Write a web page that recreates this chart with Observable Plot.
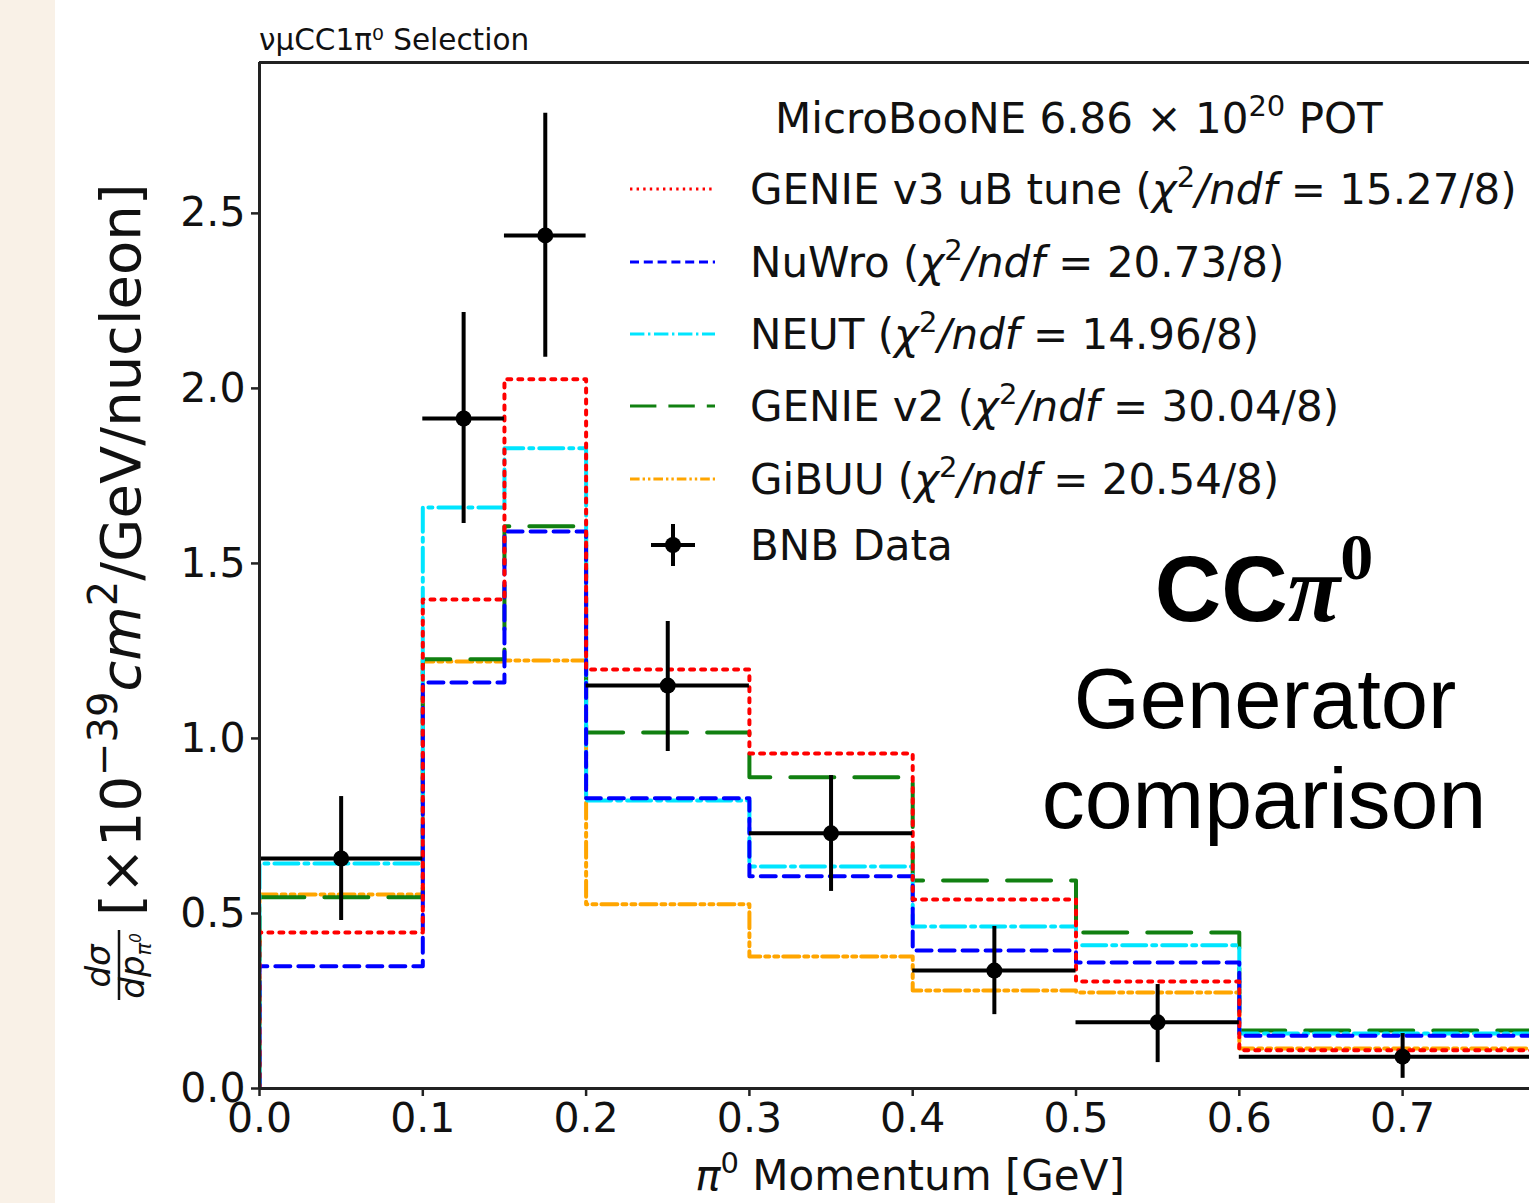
<!DOCTYPE html>
<html><head><meta charset="utf-8">
<script src="https://cdn.jsdelivr.net/npm/d3@7"></script>
<script src="https://cdn.jsdelivr.net/npm/@observablehq/plot@0.6"></script>
<style>
html,body{margin:0;padding:0;background:#f9f1e7;overflow:hidden;width:1529px;height:1203px;}
#white{position:absolute;left:55px;top:0;width:1474px;height:1203px;background:#fff;}
#chart{position:absolute;left:0;top:0;}
</style></head><body><div id="white"></div><div id="chart"></div>
<script>
// ---- data ----
const binEdges = [0, 0.1, 0.15, 0.2, 0.3, 0.4, 0.5, 0.6, 0.8];
const binCenters = [0.05, 0.125, 0.175, 0.25, 0.35, 0.45, 0.55, 0.7];
const bnbData = [0.657, 1.914, 2.437, 1.151, 0.729, 0.337, 0.189, 0.091];
const bnbErrLow = [0.177, 0.300, 0.348, 0.188, 0.166, 0.126, 0.115, 0.062];
const bnbErrHigh = [0.177, 0.303, 0.349, 0.183, 0.165, 0.126, 0.108, 0.066];
const genieV3 = [0.446, 1.397, 2.026, 1.197, 0.957, 0.540, 0.306, 0.109];
const nuwro = [0.349, 1.160, 1.591, 0.829, 0.606, 0.394, 0.360, 0.151];
const neut = [0.643, 1.660, 1.829, 0.823, 0.634, 0.463, 0.409, 0.157];
const genieV2 = [0.546, 1.226, 1.606, 1.017, 0.889, 0.594, 0.446, 0.166];
const gibuu = [0.554, 1.220, 1.223, 0.526, 0.377, 0.280, 0.274, 0.114];
const xTicks = [0, 0.1, 0.2, 0.3, 0.4, 0.5, 0.6, 0.7];
const yTicks = [0, 0.5, 1.0, 1.5, 2.0, 2.5];
const seriesNames = ["GENIE v3 uB tune", "NuWro", "NEUT", "GENIE v2", "GiBUU"];
const chi2 = ["15.27/8", "20.73/8", "14.96/8", "30.04/8", "20.54/8"];
const seriesColors = ["#ff0000", "#0000ff", "#00e5ff", "#118011", "#ffa500"];
const seriesDash = ["4,7", "15,8", "24,6,4,6", "44,20", "16,5,4,5,4,5"];
const seriesValues = [genieV3, nuwro, neut, genieV2, gibuu];

const xDomain = [0, 0.7777];
const yDomain = [0, 2.931];

function stepPoints(vals) {
  const pts = [[binEdges[0], 0]];
  vals.forEach((v, i) => { pts.push([binEdges[i], v]); pts.push([binEdges[i + 1], v]); });
  pts.push([binEdges[binEdges.length - 1], 0]);
  return pts.map(([x, y]) => ({x, y}));
}
const dataTable = bnbData.map((v, i) => ({
  lo: binEdges[i], hi: binEdges[i + 1], c: binCenters[i], v,
  y1: v - bnbErrLow[i], y2: v + bnbErrHigh[i]
}));

const font = "DejaVu Sans, sans-serif";
const lineMarks = [];
for (let k = seriesValues.length - 1; k >= 0; k--) {
  lineMarks.push(Plot.line(stepPoints(seriesValues[k]), {
    x: "x", y: "y", stroke: seriesColors[k], strokeWidth: 4,
    strokeDasharray: seriesDash[k], clip: true
  }));
}

const svg = Plot.plot({
  width: 1529, height: 1203,
  marginLeft: 259, marginRight: 0, marginTop: 62, marginBottom: 115,
  style: {background: "transparent", fontFamily: font},
  x: {domain: xDomain},
  y: {domain: yDomain},
  marks: [
    ...lineMarks,
    Plot.ruleY(dataTable, {x1: "lo", x2: "hi", y: "v", stroke: "black", strokeWidth: 4, clip: true}),
    Plot.ruleX(dataTable, {x: "c", y1: "y1", y2: "y2", stroke: "black", strokeWidth: 4}),
    Plot.dot(dataTable, {x: "c", y: "v", r: 8, fill: "black", stroke: "none"}),
    Plot.axisX({ticks: xTicks, tickFormat: d => d.toFixed(1), tickSize: 8, tickPadding: 6,
      fontSize: 41, stroke: "#222", strokeWidth: 2.5, label: null, fill: "#111"}),
    Plot.axisY({ticks: yTicks, tickFormat: d => d.toFixed(1), tickSize: 8, tickPadding: 6,
      fontSize: 41, stroke: "#222", strokeWidth: 2.5, label: null, fill: "#111"}),
    Plot.ruleX([xDomain[0]], {stroke: "#222", strokeWidth: 3}),
    Plot.ruleY([yDomain[0]], {stroke: "#222", strokeWidth: 3}),
    Plot.ruleY([yDomain[1]], {stroke: "#222", strokeWidth: 3})
  ]
});
document.getElementById("chart").appendChild(svg);

const S = d3.select(svg);
const ns = S.append("g").attr("font-family", font).attr("fill", "#111").attr("text-anchor", "start");

// title
ns.append("text").attr("x", 259).attr("y", 50).attr("font-size", 29.5)
  .text("νμCC1π⁰ Selection");

// x label
const xl = ns.append("text").attr("x", 910).attr("y", 1190).attr("text-anchor", "middle").attr("font-size", 42);
xl.append("tspan").attr("font-style", "italic").text("π");
xl.append("tspan").attr("font-size", 29).attr("dy", -17).text("0");
xl.append("tspan").attr("dy", 17).text(" Momentum [GeV]");

// y label (rotated)
const yg = ns.append("g").attr("transform", "rotate(-90)");
const yl = yg.append("text").attr("x", -916).attr("y", 140).attr("font-size", 56);
yl.append("tspan").text("[×10");
yl.append("tspan").attr("font-size", 40).attr("dy", -23).text("−39");
yl.append("tspan").attr("dy", 23).attr("font-style", "italic").text("cm");
yl.append("tspan").attr("font-size", 40).attr("dy", -23).text("2");
yl.append("tspan").attr("dy", 23).text("/GeV/nucleon]");
// fraction d sigma / d p_pi0
yg.append("text").attr("x", -966).attr("y", 110).attr("text-anchor", "middle")
  .attr("font-size", 34).attr("font-style", "italic").text("dσ");
yg.append("line").attr("x1", -1000).attr("x2", -930).attr("y1", 119).attr("y2", 119)
  .attr("stroke", "#111").attr("stroke-width", 2.5);
const den = yg.append("text").attr("x", -966).attr("y", 144).attr("text-anchor", "middle")
  .attr("font-size", 34).attr("font-style", "italic");
den.append("tspan").text("dp");
den.append("tspan").attr("font-size", 21).attr("dy", 7).text("π");
den.append("tspan").attr("font-size", 15).attr("dy", -10).text("0");

// legend
ns.append("text").attr("x", 775).attr("y", 133).attr("font-size", 42).call(t => {
  t.append("tspan").text("MicroBooNE 6.86 × 10");
  t.append("tspan").attr("font-size", 29).attr("dy", -17).text("20");
  t.append("tspan").attr("dy", 17).text(" POT");
});
const rowY = [189, 262, 334, 406, 479, 545];
seriesNames.forEach((name, k) => {
  const y = rowY[k];
  ns.append("line").attr("x1", 630).attr("x2", 715).attr("y1", y).attr("y2", y)
    .attr("stroke", seriesColors[k]).attr("stroke-width", 3)
    .attr("stroke-dasharray", seriesDash[k].split(",").map(d => (+d * 0.6).toFixed(1)).join(","));
  const t = ns.append("text").attr("x", 750).attr("y", y + 15).attr("font-size", 42);
  t.append("tspan").text(name + " (");
  t.append("tspan").attr("font-style", "italic").text("χ");
  t.append("tspan").attr("font-size", 29).attr("dy", -17).text("2");
  t.append("tspan").attr("dy", 17).attr("font-style", "italic").text("/ndf");
  t.append("tspan").text(" = " + chi2[k] + ")");
});
{
  const y = rowY[5];
  ns.append("line").attr("x1", 651).attr("x2", 695).attr("y1", y).attr("y2", y).attr("stroke", "black").attr("stroke-width", 4);
  ns.append("line").attr("x1", 673).attr("x2", 673).attr("y1", y - 21).attr("y2", y + 21).attr("stroke", "black").attr("stroke-width", 4);
  ns.append("circle").attr("cx", 673).attr("cy", y).attr("r", 8).attr("fill", "black");
  ns.append("text").attr("x", 750).attr("y", y + 15).attr("font-size", 42).text("BNB Data");
}

// annotation
const ann = ns.append("g").attr("fill", "#000");
const cc = ann.append("text").attr("x", 1264).attr("y", 621).attr("text-anchor", "middle");
cc.append("tspan").attr("font-family", "Liberation Sans, Arial, sans-serif").attr("font-weight", "bold").attr("font-size", 92).text("CC");
cc.append("tspan").attr("font-family", "Liberation Serif, serif").attr("font-weight", "bold").attr("font-style", "italic").attr("font-size", 96).text("π");
cc.append("tspan").attr("font-family", "Liberation Serif, serif").attr("font-weight", "bold").attr("font-size", 66).attr("dy", -42).text("0");
ann.append("text").attr("x", 1265).attr("y", 728).attr("text-anchor", "middle")
  .attr("font-family", "Liberation Sans, Arial, sans-serif").attr("font-size", 85).text("Generator");
ann.append("text").attr("x", 1264).attr("y", 828).attr("text-anchor", "middle")
  .attr("font-family", "Liberation Sans, Arial, sans-serif").attr("font-size", 86).text("comparison");
</script>
</body></html>
